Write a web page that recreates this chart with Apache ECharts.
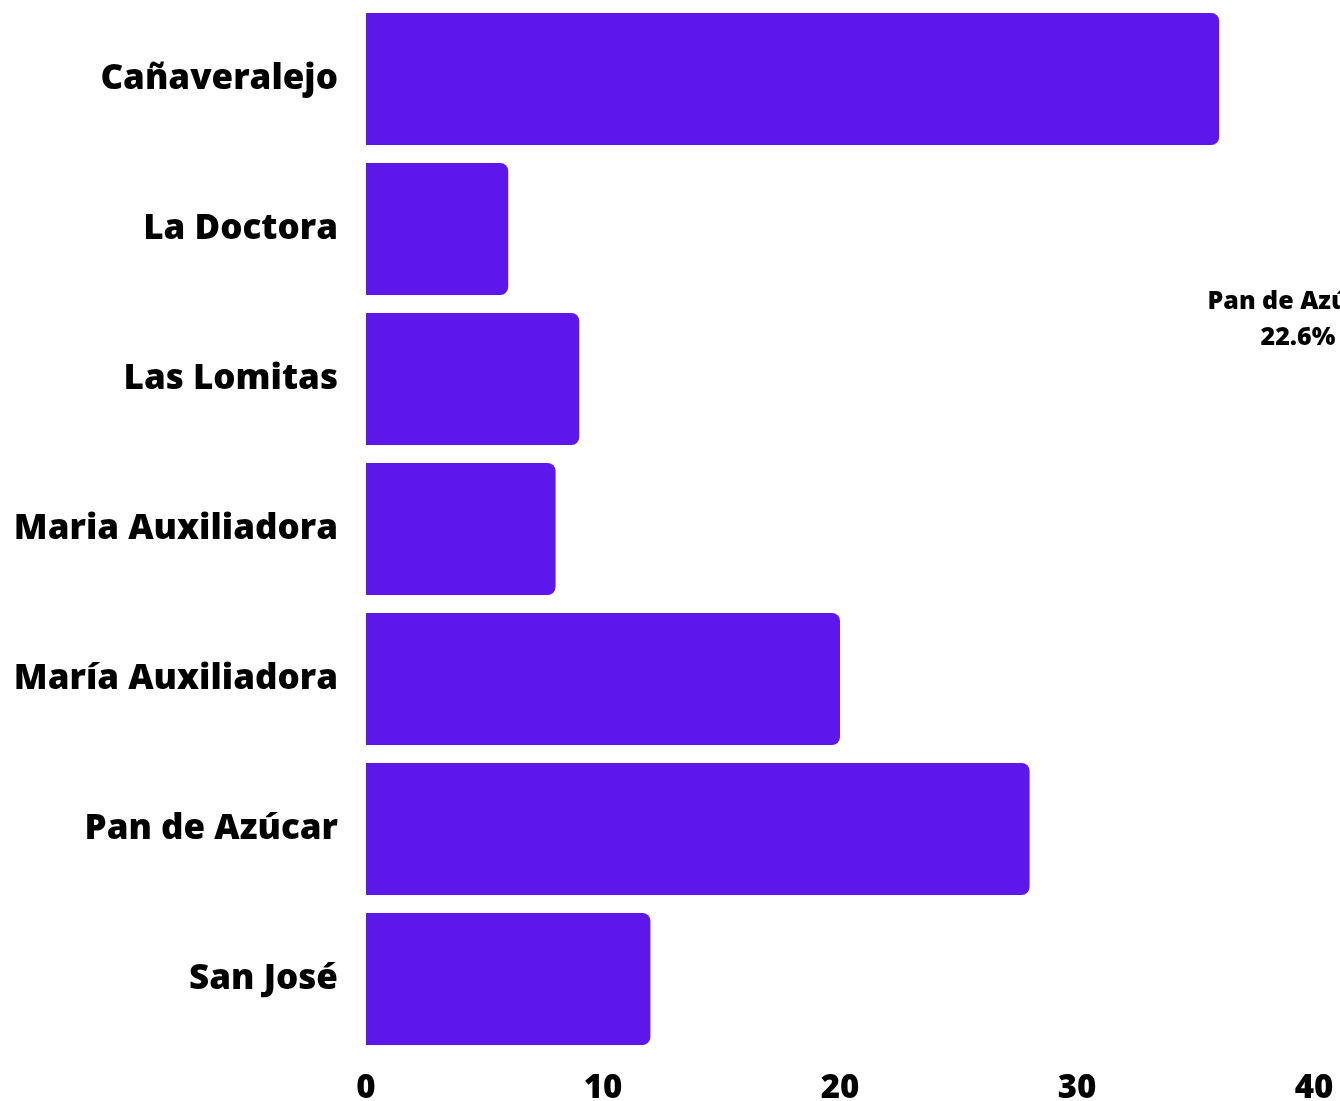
<!DOCTYPE html>
<html>
<head>
<meta charset="utf-8">
<script src="https://cdn.jsdelivr.net/npm/echarts@6/dist/echarts.min.js"></script>
<style>
  html, body { margin: 0; padding: 0; background: #ffffff; }
  #barrios { width: 1340px; height: 1101px; }
</style>
</head>
<body>
<div id="barrios"></div>
<script>
  // datos
  var barrios = ['Cañaveralejo', 'La Doctora', 'Las Lomitas', 'Maria Auxiliadora', 'María Auxiliadora', 'Pan de Azúcar', 'San José'];
  var valores = [36, 6, 9, 8, 20, 28, 12];
  var ejeX = [0, 10, 20, 30, 40];
  // etiqueta suelta del pie que asoma por la derecha
  var etiquetaPie = ['Pan de Azúcar', '22.6%'];

  var fuente = '"Open Sans", "DejaVu Sans", sans-serif';
  var chart = echarts.init(document.getElementById('barrios'));
  chart.setOption({
    animation: false,
    grid: { left: 366, right: 26, top: 4, bottom: 47, outerBoundsMode: 'none' },
    xAxis: {
      type: 'value',
      min: ejeX[0],
      max: ejeX[ejeX.length - 1],
      interval: 10,
      splitLine: { show: false },
      axisLine: { show: false },
      axisTick: { show: false },
      axisLabel: { color: '#000', fontFamily: fuente, fontWeight: 800, fontSize: 33, margin: 18 }
    },
    yAxis: {
      type: 'category',
      inverse: true,
      data: barrios,
      axisLine: { show: false },
      axisTick: { show: false },
      axisLabel: { color: '#000', fontFamily: fuente, fontWeight: 800, fontSize: 35, margin: 28, padding: [5, 0, 0, 0] }
    },
    series: [{
      type: 'bar',
      data: valores,
      barCategoryGap: '12%',
      itemStyle: { color: '#5e17eb', borderRadius: [0, 8, 8, 0] }
    }],
    graphic: [{
      type: 'text',
      x: 1298,
      y: 284,
      style: {
        text: etiquetaPie.join('\n'),
        fill: '#000',
        font: '800 25px ' + fuente,
        align: 'center',
        verticalAlign: 'top',
        lineHeight: 36
      }
    }]
  });
</script>
</body>
</html>
